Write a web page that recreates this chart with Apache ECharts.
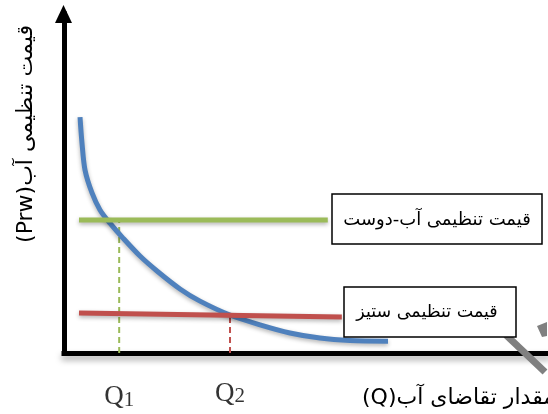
<!DOCTYPE html>
<html>
<head>
<meta charset="utf-8">
<script src="https://cdn.jsdelivr.net/npm/echarts@6/dist/echarts.min.js"></script>
<style>
html,body{margin:0;padding:0;background:#fff;}
#main{width:548px;height:414px;direction:rtl;}
</style>
</head>
<body>
<div id="main"></div>
<script>
// Demand curve (blue)
var demandX = [3.31, 3.72, 4.34, 5.79, 7.44, 9.50, 12.19, 15.70, 19.21, 23.97, 28.10, 34.30, 40.50, 46.69, 52.89, 59.09, 66.94];
var demandY = [69.6, 61.9, 54.0, 47.2, 42.2, 38.3, 33.9, 28.6, 24.2, 18.9, 15.3, 11.2, 8.3, 5.9, 4.4, 3.7, 3.5];
// Water-friendly regulated price (green)
var greenX = [3.1, 54.5];
var greenY = [39.2, 39.2];
// Conflict regulated price (red)
var redX = [3.1, 57.4];
var redY = [11.8, 10.6];
// Quantity markers
var qLabels = ['Q1', 'Q2'];
var qX = [11.4, 34.3];
var qTop = [39.2, 11.2];
// Texts
var yTitle = 'قیمت تنظیمی آب(Prw)';
var xTitle = 'مقدار تقاضای آب(Q)';
var boxTexts = ['قیمت تنظیمی آب-دوست', 'قیمت تنظیمی ستیز'];

function pairs(xs, ys){ return xs.map(function(x,i){ return [x, ys[i]]; }); }

var chart = echarts.init(document.getElementById('main'), null, {renderer:'canvas'});
var shadow = {shadowColor:'rgba(0,0,0,0.3)', shadowBlur:4, shadowOffsetY:2};
var series = [
  {type:'line', data:pairs(demandX, demandY), smooth:0.3, showSymbol:false, z:3,
   lineStyle:Object.assign({color:'#4f81bd', width:5}, shadow)},
  {type:'line', data:pairs(greenX, greenY), showSymbol:false, z:4,
   lineStyle:Object.assign({color:'#9bbb59', width:5}, shadow)},
  {type:'line', data:pairs(redX, redY), showSymbol:false, z:4,
   lineStyle:Object.assign({color:'#c0504d', width:5}, shadow)},
  {type:'line', data:[[qX[0],0],[qX[0],qTop[0]]], showSymbol:false, z:2,
   lineStyle:{color:'#9bbb59', width:2, type:[6,4]}},
  {type:'line', data:[[qX[1],0],[qX[1],qTop[1]]], showSymbol:false, z:2,
   lineStyle:{color:'#c0504d', width:2, type:[6,4]}},
  {type:'scatter', clip:false, symbolSize:0, z:5,
   data:qLabels.map(function(q,i){ return [qX[i], i===0 ? -13 : -12]; }),
   label:{show:true, position:'inside',
     formatter:function(p){ var q = qLabels[p.dataIndex]; return '{a|Q}{b|' + q.slice(1) + '}'; },
     rich:{a:{fontFamily:'Liberation Serif', fontSize:27, color:'#000'},
           b:{fontFamily:'Liberation Serif', fontSize:21, color:'#000', verticalAlign:'bottom'}}}}
];

chart.setOption({
  animation:false,
  backgroundColor:'#fff',
  grid:{left:64, right:0, top:14, bottom:61},
  xAxis:{type:'value', min:0, max:100, splitLine:{show:false}, axisTick:{show:false}, axisLabel:{show:false},
    axisLine:{show:true, onZero:false, lineStyle:{color:'#000', width:5, cap:'square',
      shadowColor:'rgba(0,0,0,0.35)', shadowBlur:6, shadowOffsetY:4}}},
  yAxis:{type:'value', min:0, max:100, splitLine:{show:false}, axisTick:{show:false}, axisLabel:{show:false},
    axisLine:{show:true, onZero:false, lineStyle:{color:'#000', width:5, cap:'square'}}},
  graphic:[
    {type:'polygon', z:20, shape:{points:[[63.5,5],[55,23],[72,23]]}, style:{fill:'#000'}},
    {type:'text', z:11, x:26, y:134, rotation:Math.PI/2,
     style:{text:yTitle, font:'22px "DejaVu Sans"', fill:'#000', align:'center', verticalAlign:'middle'}},
    {type:'line', z:1, shape:{x1:506, y1:335, x2:545, y2:372}, style:{stroke:'#808080', lineWidth:7}},
    {type:'polygon', z:1, shape:{points:[[537,326],[547,322],[547,336],[542,337]]}, style:{fill:'#808080'}},
    {type:'rect', z:10, shape:{x:332, y:194, width:210, height:50}, style:{fill:'#fff', stroke:'#000', lineWidth:1.5}},
    {type:'text', z:11, x:437, y:220, style:{text:boxTexts[0], font:'18px "DejaVu Sans"', fill:'#000', align:'center', verticalAlign:'middle'}},
    {type:'rect', z:10, shape:{x:344, y:287, width:172, height:50}, style:{fill:'#fff', stroke:'#000', lineWidth:1.5}},
    {type:'text', z:11, x:427, y:312, style:{text:boxTexts[1], font:'17.5px "DejaVu Sans"', fill:'#000', align:'center', verticalAlign:'middle'}},
    {type:'text', z:11, x:362, y:398, style:{text:xTitle, font:'22px "DejaVu Sans"', fill:'#000', align:'left', verticalAlign:'middle'}}
  ],
  series:series
});
</script>
</body>
</html>
